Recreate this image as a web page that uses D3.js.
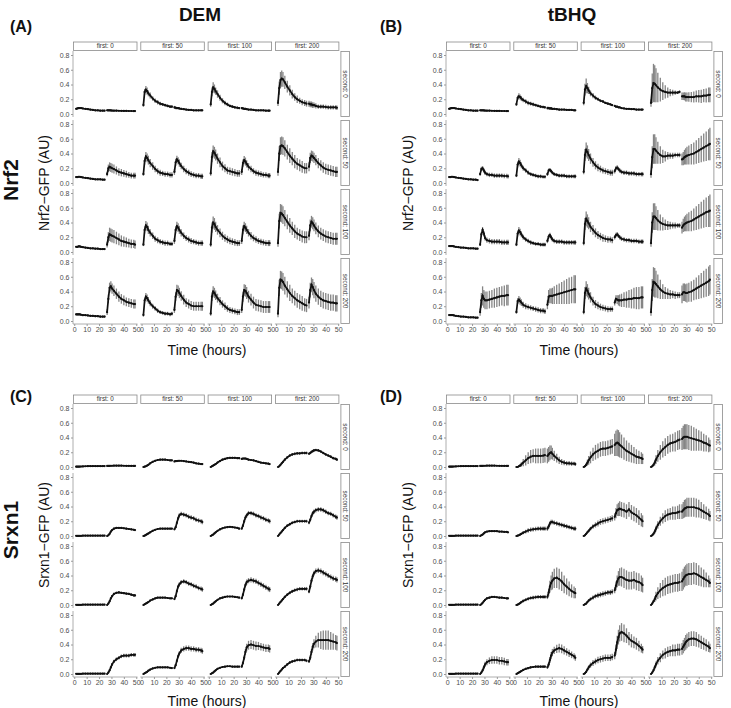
<!DOCTYPE html>
<html>
<head>
<meta charset="utf-8">
<script src="https://cdnjs.cloudflare.com/ajax/libs/d3/7.8.5/d3.min.js"></script>
<style>
body { margin: 0; background: #fff; }
svg { font-family: "Liberation Sans", Arial, sans-serif; }
</style>
</head>
<body>
<svg width="731" height="708"></svg>
<script>
// hours after start; points 0-14 belong to the first dose, 15-29 to the second
var times = [1.5,2.5,3.5,4.5,5.5,7,9,11,13,15,17,19,21,23,24.5,
             26.5,27.5,28.5,29.5,30.5,32,34,36,38,40,42,44,46,48,49];
var SPLIT = 15;
var firstDose = ["0", "50", "100", "200"];   // columns
var secondDose = ["0", "50", "100", "200"];  // rows
var xTicks = [0, 10, 20, 30, 40, 50];
var yTicks = [0, 0.2, 0.4, 0.6, 0.8];
var yTickLabels = ["0.0", "0.2", "0.4", "0.6", "0.8"];

// ---- (A) DEM, Nrf2 : [row = second dose][col = first dose] ----
var nrf2DemMean = [
 [[0.07,0.075,0.08,0.08,0.08,0.075,0.07,0.065,0.06,0.055,0.05,0.05,0.045,0.045,0.045,0.05,0.05,0.05,0.048,0.046,0.045,0.045,0.044,0.043,0.042,0.042,0.041,0.041,0.04,0.04],
  [0.12,0.3,0.33,0.31,0.28,0.25,0.21,0.18,0.16,0.14,0.13,0.12,0.11,0.1,0.1,0.09,0.085,0.08,0.08,0.075,0.07,0.065,0.06,0.055,0.055,0.05,0.05,0.05,0.05,0.05],
  [0.13,0.3,0.36,0.34,0.31,0.27,0.22,0.18,0.15,0.13,0.11,0.1,0.09,0.085,0.08,0.08,0.075,0.07,0.07,0.065,0.06,0.06,0.055,0.05,0.05,0.05,0.05,0.045,0.045,0.045],
  [0.15,0.35,0.46,0.48,0.47,0.43,0.37,0.32,0.27,0.23,0.2,0.18,0.16,0.15,0.14,0.14,0.13,0.13,0.12,0.12,0.11,0.1,0.1,0.1,0.095,0.09,0.09,0.09,0.09,0.085]],
 [[0.08,0.08,0.085,0.085,0.08,0.075,0.07,0.065,0.06,0.055,0.05,0.05,0.05,0.045,0.045,0.12,0.2,0.22,0.21,0.2,0.19,0.17,0.15,0.14,0.13,0.12,0.11,0.1,0.1,0.1],
  [0.12,0.3,0.36,0.34,0.31,0.27,0.23,0.19,0.16,0.14,0.13,0.12,0.12,0.11,0.11,0.15,0.28,0.32,0.3,0.27,0.23,0.19,0.16,0.14,0.12,0.11,0.1,0.1,0.09,0.09],
  [0.13,0.35,0.43,0.41,0.38,0.33,0.28,0.23,0.2,0.17,0.16,0.15,0.14,0.13,0.13,0.15,0.27,0.31,0.29,0.26,0.22,0.19,0.16,0.14,0.13,0.12,0.11,0.11,0.1,0.1],
  [0.15,0.4,0.5,0.51,0.5,0.47,0.42,0.37,0.33,0.29,0.26,0.24,0.22,0.2,0.2,0.22,0.34,0.37,0.36,0.34,0.31,0.27,0.24,0.21,0.19,0.18,0.17,0.16,0.15,0.15]],
 [[0.07,0.07,0.075,0.075,0.07,0.065,0.06,0.055,0.05,0.05,0.045,0.045,0.04,0.04,0.04,0.1,0.2,0.24,0.23,0.22,0.21,0.19,0.17,0.15,0.14,0.13,0.12,0.11,0.11,0.1],
  [0.1,0.3,0.36,0.34,0.3,0.26,0.22,0.18,0.16,0.14,0.13,0.12,0.12,0.11,0.11,0.15,0.3,0.35,0.33,0.3,0.26,0.22,0.19,0.17,0.15,0.14,0.13,0.12,0.12,0.12],
  [0.1,0.33,0.4,0.38,0.34,0.3,0.26,0.22,0.19,0.17,0.15,0.14,0.13,0.12,0.12,0.15,0.3,0.35,0.33,0.3,0.26,0.22,0.19,0.17,0.15,0.14,0.13,0.12,0.12,0.12],
  [0.12,0.42,0.53,0.52,0.5,0.46,0.41,0.36,0.32,0.28,0.25,0.23,0.21,0.2,0.2,0.22,0.36,0.41,0.39,0.36,0.32,0.28,0.25,0.23,0.21,0.2,0.19,0.18,0.18,0.18]],
 [[0.09,0.09,0.09,0.09,0.085,0.08,0.08,0.075,0.07,0.07,0.065,0.065,0.06,0.06,0.06,0.12,0.3,0.45,0.47,0.44,0.41,0.37,0.33,0.3,0.28,0.26,0.25,0.24,0.23,0.23],
  [0.08,0.28,0.33,0.31,0.28,0.24,0.2,0.17,0.14,0.12,0.11,0.1,0.1,0.09,0.1,0.15,0.33,0.42,0.41,0.38,0.34,0.29,0.25,0.23,0.21,0.2,0.2,0.2,0.2,0.2],
  [0.1,0.33,0.4,0.38,0.35,0.31,0.27,0.23,0.2,0.17,0.15,0.14,0.13,0.12,0.12,0.15,0.33,0.42,0.41,0.38,0.33,0.29,0.25,0.22,0.21,0.2,0.19,0.19,0.19,0.19],
  [0.1,0.45,0.56,0.55,0.53,0.48,0.43,0.38,0.34,0.31,0.28,0.26,0.24,0.22,0.21,0.25,0.42,0.49,0.46,0.42,0.37,0.33,0.3,0.28,0.27,0.26,0.25,0.25,0.24,0.24]]
];
var nrf2DemSd = [
 [[0.01,0.01,0.01,0.01,0.01,0.01,0.01,0.01,0.01,0.01,0.01,0.01,0.01,0.01,0.01,0.01,0.01,0.01,0.01,0.01,0.01,0.01,0.01,0.01,0.01,0.01,0.01,0.01,0.01,0.01],
  [0.02,0.04,0.05,0.05,0.04,0.04,0.03,0.03,0.03,0.025,0.02,0.02,0.02,0.02,0.02,0.02,0.02,0.015,0.015,0.015,0.015,0.01,0.01,0.01,0.01,0.01,0.01,0.01,0.01,0.01],
  [0.03,0.06,0.07,0.06,0.05,0.05,0.04,0.035,0.03,0.025,0.02,0.02,0.02,0.02,0.015,0.015,0.015,0.015,0.015,0.01,0.01,0.01,0.01,0.01,0.01,0.01,0.01,0.01,0.01,0.01],
  [0.04,0.09,0.11,0.11,0.1,0.09,0.08,0.07,0.06,0.05,0.05,0.04,0.04,0.04,0.04,0.04,0.04,0.04,0.04,0.035,0.035,0.03,0.03,0.03,0.03,0.03,0.03,0.03,0.03,0.03]],
 [[0.01,0.01,0.01,0.01,0.01,0.01,0.01,0.01,0.01,0.01,0.01,0.01,0.01,0.01,0.01,0.03,0.05,0.06,0.06,0.06,0.06,0.055,0.05,0.05,0.045,0.045,0.04,0.04,0.04,0.04],
  [0.02,0.05,0.06,0.06,0.06,0.055,0.05,0.045,0.04,0.04,0.035,0.035,0.035,0.035,0.035,0.04,0.05,0.05,0.05,0.05,0.045,0.045,0.04,0.04,0.04,0.035,0.035,0.035,0.035,0.035],
  [0.03,0.07,0.08,0.08,0.075,0.07,0.065,0.06,0.055,0.05,0.05,0.05,0.05,0.045,0.045,0.04,0.05,0.055,0.055,0.05,0.05,0.045,0.04,0.04,0.04,0.04,0.035,0.035,0.035,0.035],
  [0.05,0.1,0.12,0.12,0.12,0.11,0.1,0.1,0.09,0.09,0.08,0.08,0.08,0.07,0.07,0.06,0.07,0.07,0.07,0.07,0.07,0.07,0.07,0.07,0.07,0.07,0.07,0.07,0.07,0.07]],
 [[0.01,0.01,0.01,0.01,0.01,0.01,0.01,0.01,0.01,0.01,0.01,0.01,0.01,0.01,0.01,0.04,0.07,0.09,0.09,0.09,0.09,0.085,0.08,0.075,0.07,0.065,0.06,0.06,0.055,0.055],
  [0.02,0.05,0.06,0.06,0.055,0.05,0.045,0.04,0.04,0.035,0.035,0.035,0.035,0.03,0.03,0.04,0.05,0.06,0.06,0.055,0.05,0.045,0.04,0.04,0.04,0.035,0.035,0.035,0.035,0.035],
  [0.03,0.07,0.08,0.08,0.07,0.065,0.06,0.055,0.05,0.05,0.045,0.045,0.045,0.04,0.04,0.04,0.06,0.06,0.06,0.055,0.05,0.05,0.045,0.045,0.04,0.04,0.04,0.04,0.04,0.04],
  [0.05,0.1,0.12,0.12,0.12,0.11,0.1,0.1,0.09,0.09,0.08,0.08,0.08,0.08,0.08,0.06,0.08,0.08,0.08,0.08,0.08,0.08,0.08,0.08,0.08,0.08,0.08,0.08,0.08,0.08]],
 [[0.015,0.015,0.015,0.015,0.015,0.015,0.015,0.015,0.015,0.015,0.015,0.015,0.015,0.015,0.015,0.04,0.06,0.07,0.07,0.07,0.07,0.07,0.07,0.065,0.065,0.06,0.06,0.06,0.06,0.06],
  [0.02,0.04,0.05,0.05,0.045,0.04,0.035,0.03,0.03,0.025,0.025,0.025,0.025,0.025,0.025,0.04,0.06,0.07,0.07,0.07,0.065,0.065,0.06,0.06,0.06,0.06,0.06,0.06,0.06,0.06],
  [0.03,0.06,0.07,0.07,0.065,0.06,0.055,0.05,0.05,0.045,0.04,0.04,0.04,0.04,0.04,0.04,0.07,0.08,0.08,0.08,0.08,0.08,0.08,0.08,0.08,0.08,0.08,0.08,0.08,0.08],
  [0.05,0.11,0.12,0.12,0.12,0.12,0.11,0.11,0.1,0.1,0.1,0.1,0.1,0.09,0.09,0.08,0.1,0.1,0.11,0.11,0.11,0.11,0.11,0.11,0.11,0.11,0.11,0.11,0.11,0.11]]
];

// ---- (B) tBHQ, Nrf2 ----
var nrf2TbhqMean = [
 [[0.07,0.075,0.08,0.08,0.08,0.075,0.07,0.065,0.06,0.055,0.05,0.05,0.045,0.045,0.045,0.05,0.05,0.05,0.048,0.046,0.045,0.045,0.044,0.043,0.042,0.042,0.041,0.041,0.04,0.04],
  [0.13,0.22,0.24,0.23,0.21,0.19,0.17,0.15,0.14,0.13,0.12,0.11,0.1,0.095,0.09,0.08,0.08,0.075,0.075,0.07,0.07,0.065,0.06,0.06,0.06,0.055,0.055,0.055,0.05,0.05],
  [0.15,0.33,0.38,0.35,0.32,0.28,0.25,0.22,0.2,0.18,0.17,0.15,0.14,0.13,0.12,0.11,0.1,0.1,0.09,0.09,0.08,0.075,0.07,0.07,0.065,0.065,0.06,0.06,0.06,0.06],
  [0.15,0.35,0.42,0.41,0.39,0.36,0.33,0.31,0.3,0.29,0.29,0.29,0.29,0.29,0.3,0.24,0.24,0.24,0.23,0.23,0.23,0.23,0.23,0.24,0.24,0.24,0.25,0.25,0.26,0.26]],
 [[0.08,0.08,0.085,0.085,0.08,0.075,0.07,0.065,0.06,0.055,0.05,0.05,0.045,0.045,0.04,0.12,0.19,0.2,0.17,0.14,0.12,0.11,0.11,0.1,0.1,0.1,0.1,0.095,0.095,0.09],
  [0.1,0.25,0.29,0.27,0.24,0.2,0.17,0.14,0.12,0.11,0.1,0.09,0.09,0.085,0.085,0.12,0.17,0.18,0.16,0.14,0.12,0.11,0.1,0.1,0.1,0.09,0.09,0.09,0.09,0.09],
  [0.15,0.38,0.45,0.42,0.38,0.33,0.28,0.24,0.21,0.19,0.17,0.16,0.15,0.14,0.14,0.16,0.2,0.21,0.19,0.17,0.15,0.14,0.14,0.13,0.13,0.13,0.12,0.12,0.12,0.12],
  [0.12,0.35,0.46,0.46,0.44,0.41,0.38,0.36,0.36,0.37,0.37,0.37,0.38,0.38,0.38,0.32,0.33,0.35,0.36,0.37,0.38,0.39,0.4,0.42,0.44,0.46,0.48,0.5,0.52,0.53]],
 [[0.08,0.08,0.08,0.08,0.075,0.07,0.065,0.06,0.06,0.055,0.05,0.05,0.05,0.045,0.045,0.1,0.24,0.3,0.25,0.19,0.16,0.15,0.14,0.14,0.14,0.14,0.13,0.13,0.13,0.13],
  [0.1,0.25,0.29,0.27,0.24,0.2,0.17,0.15,0.13,0.12,0.11,0.11,0.1,0.1,0.1,0.15,0.21,0.23,0.2,0.17,0.15,0.14,0.14,0.14,0.13,0.13,0.13,0.13,0.13,0.13],
  [0.12,0.38,0.45,0.42,0.39,0.34,0.3,0.26,0.23,0.21,0.19,0.18,0.17,0.17,0.16,0.2,0.23,0.24,0.22,0.2,0.18,0.17,0.16,0.16,0.15,0.15,0.15,0.14,0.14,0.14],
  [0.12,0.4,0.48,0.48,0.46,0.43,0.4,0.38,0.37,0.36,0.36,0.36,0.36,0.36,0.36,0.33,0.36,0.38,0.39,0.4,0.41,0.42,0.44,0.46,0.48,0.5,0.52,0.54,0.55,0.56]],
 [[0.08,0.08,0.08,0.08,0.075,0.07,0.065,0.06,0.06,0.055,0.05,0.05,0.05,0.045,0.045,0.12,0.28,0.34,0.3,0.28,0.28,0.29,0.3,0.31,0.32,0.33,0.34,0.34,0.35,0.35],
  [0.12,0.27,0.29,0.27,0.25,0.22,0.2,0.19,0.18,0.17,0.16,0.15,0.14,0.14,0.13,0.22,0.33,0.34,0.34,0.34,0.35,0.36,0.37,0.38,0.39,0.4,0.41,0.42,0.43,0.43],
  [0.12,0.38,0.44,0.41,0.37,0.32,0.27,0.23,0.21,0.19,0.18,0.17,0.16,0.16,0.16,0.25,0.3,0.29,0.28,0.28,0.28,0.29,0.29,0.3,0.3,0.31,0.31,0.31,0.32,0.32],
  [0.12,0.42,0.53,0.52,0.5,0.47,0.43,0.4,0.38,0.37,0.36,0.36,0.35,0.35,0.35,0.36,0.39,0.39,0.38,0.38,0.39,0.4,0.42,0.44,0.46,0.48,0.5,0.52,0.54,0.56]]
];
var nrf2TbhqSd = [
 [[0.01,0.01,0.01,0.01,0.01,0.01,0.01,0.01,0.01,0.01,0.01,0.01,0.01,0.01,0.01,0.01,0.01,0.01,0.01,0.01,0.01,0.01,0.01,0.01,0.01,0.01,0.01,0.01,0.01,0.01],
  [0.02,0.03,0.04,0.035,0.035,0.03,0.03,0.03,0.025,0.025,0.02,0.02,0.02,0.02,0.02,0.02,0.02,0.02,0.02,0.015,0.015,0.015,0.015,0.01,0.01,0.01,0.01,0.01,0.01,0.01],
  [0.03,0.08,0.1,0.07,0.05,0.04,0.035,0.03,0.025,0.02,0.02,0.015,0.015,0.01,0.01,0.01,0.01,0.01,0.01,0.01,0.01,0.01,0.01,0.01,0.01,0.01,0.01,0.01,0.01,0.01],
  [0.05,0.2,0.26,0.25,0.23,0.2,0.16,0.12,0.09,0.07,0.05,0.04,0.03,0.02,0.02,0.05,0.05,0.055,0.06,0.06,0.065,0.07,0.075,0.08,0.085,0.09,0.09,0.095,0.1,0.1]],
 [[0.01,0.01,0.01,0.01,0.01,0.01,0.01,0.01,0.01,0.01,0.01,0.01,0.01,0.01,0.01,0.02,0.03,0.03,0.03,0.03,0.03,0.03,0.03,0.03,0.03,0.03,0.03,0.03,0.03,0.03],
  [0.02,0.04,0.05,0.045,0.04,0.035,0.03,0.03,0.025,0.025,0.025,0.025,0.025,0.025,0.025,0.025,0.025,0.025,0.025,0.025,0.025,0.025,0.025,0.025,0.025,0.025,0.025,0.025,0.025,0.025],
  [0.03,0.08,0.1,0.09,0.08,0.07,0.06,0.055,0.05,0.045,0.04,0.04,0.04,0.04,0.04,0.03,0.03,0.03,0.03,0.03,0.03,0.03,0.03,0.03,0.03,0.03,0.03,0.03,0.03,0.03],
  [0.05,0.15,0.2,0.2,0.18,0.15,0.12,0.09,0.07,0.05,0.04,0.04,0.03,0.03,0.03,0.08,0.09,0.1,0.11,0.12,0.13,0.14,0.15,0.16,0.17,0.18,0.19,0.2,0.21,0.22]],
 [[0.01,0.01,0.01,0.01,0.01,0.01,0.01,0.01,0.01,0.01,0.01,0.01,0.01,0.01,0.01,0.02,0.03,0.035,0.035,0.035,0.035,0.035,0.035,0.035,0.035,0.035,0.035,0.035,0.035,0.035],
  [0.02,0.04,0.05,0.045,0.04,0.035,0.03,0.03,0.03,0.025,0.025,0.025,0.025,0.025,0.025,0.03,0.03,0.03,0.03,0.03,0.03,0.03,0.03,0.03,0.03,0.03,0.03,0.03,0.03,0.03],
  [0.03,0.08,0.1,0.09,0.08,0.07,0.065,0.06,0.055,0.05,0.05,0.045,0.045,0.04,0.04,0.03,0.03,0.03,0.03,0.03,0.03,0.03,0.03,0.03,0.03,0.03,0.03,0.03,0.03,0.03],
  [0.05,0.14,0.18,0.18,0.16,0.14,0.11,0.09,0.07,0.06,0.05,0.04,0.04,0.03,0.03,0.08,0.09,0.1,0.11,0.12,0.13,0.14,0.15,0.16,0.17,0.18,0.19,0.2,0.21,0.22]],
 [[0.01,0.01,0.01,0.01,0.01,0.01,0.01,0.01,0.01,0.01,0.01,0.01,0.01,0.01,0.01,0.05,0.1,0.13,0.12,0.12,0.12,0.12,0.12,0.13,0.13,0.13,0.13,0.14,0.14,0.14],
  [0.02,0.04,0.05,0.05,0.045,0.04,0.04,0.035,0.035,0.035,0.035,0.035,0.035,0.035,0.035,0.06,0.09,0.1,0.1,0.11,0.12,0.13,0.14,0.15,0.16,0.17,0.18,0.18,0.19,0.19],
  [0.03,0.08,0.1,0.09,0.08,0.07,0.06,0.055,0.05,0.045,0.04,0.04,0.04,0.035,0.035,0.04,0.05,0.06,0.07,0.08,0.09,0.1,0.11,0.12,0.13,0.14,0.15,0.15,0.15,0.15],
  [0.05,0.15,0.2,0.2,0.18,0.16,0.13,0.1,0.08,0.07,0.06,0.05,0.05,0.04,0.04,0.12,0.12,0.12,0.12,0.13,0.13,0.14,0.14,0.15,0.16,0.17,0.18,0.19,0.2,0.2]]
];

// ---- (C) DEM, Srxn1 ----
var srxn1DemMean = [
 [[0.005,0.005,0.005,0.006,0.007,0.008,0.01,0.011,0.012,0.012,0.013,0.013,0.013,0.013,0.013,0.014,0.015,0.016,0.017,0.017,0.018,0.018,0.018,0.018,0.017,0.016,0.016,0.015,0.015,0.015],
  [0,0.005,0.01,0.02,0.03,0.05,0.07,0.085,0.095,0.1,0.1,0.1,0.095,0.09,0.09,0.075,0.08,0.08,0.085,0.085,0.085,0.08,0.075,0.07,0.065,0.06,0.05,0.045,0.04,0.04],
  [0,0.01,0.02,0.03,0.04,0.06,0.08,0.1,0.11,0.12,0.125,0.125,0.125,0.12,0.12,0.11,0.115,0.115,0.115,0.11,0.1,0.095,0.09,0.08,0.07,0.06,0.055,0.05,0.045,0.04],
  [0,0.01,0.03,0.05,0.07,0.1,0.13,0.155,0.17,0.18,0.185,0.185,0.19,0.19,0.19,0.18,0.19,0.205,0.215,0.225,0.23,0.225,0.21,0.19,0.17,0.155,0.14,0.12,0.11,0.1]],
 [[0.003,0.003,0.003,0.003,0.003,0.004,0.004,0.004,0.005,0.005,0.005,0.005,0.005,0.005,0.005,0,0.01,0.03,0.06,0.08,0.1,0.11,0.11,0.11,0.105,0.1,0.095,0.09,0.085,0.08],
  [0,0.005,0.015,0.025,0.035,0.05,0.07,0.085,0.095,0.1,0.1,0.1,0.1,0.1,0.1,0.09,0.12,0.18,0.24,0.28,0.3,0.29,0.28,0.26,0.25,0.24,0.22,0.21,0.2,0.19],
  [0,0.01,0.02,0.035,0.05,0.07,0.09,0.105,0.115,0.12,0.125,0.12,0.115,0.11,0.1,0.1,0.14,0.2,0.25,0.28,0.31,0.31,0.3,0.28,0.27,0.25,0.24,0.22,0.21,0.2],
  [0,0.02,0.04,0.06,0.08,0.11,0.14,0.16,0.18,0.19,0.2,0.2,0.2,0.2,0.2,0.18,0.22,0.27,0.31,0.33,0.35,0.36,0.36,0.35,0.33,0.31,0.3,0.28,0.26,0.25]],
 [[0.003,0.003,0.003,0.003,0.003,0.004,0.004,0.004,0.005,0.005,0.005,0.005,0.005,0.005,0.005,0,0.02,0.05,0.09,0.12,0.15,0.165,0.17,0.165,0.16,0.155,0.15,0.14,0.13,0.13],
  [0,0.01,0.02,0.03,0.04,0.06,0.075,0.09,0.1,0.1,0.1,0.1,0.095,0.09,0.09,0.08,0.12,0.19,0.25,0.28,0.31,0.32,0.31,0.29,0.28,0.26,0.25,0.23,0.22,0.21],
  [0,0.01,0.02,0.035,0.05,0.07,0.09,0.1,0.11,0.115,0.115,0.115,0.11,0.105,0.1,0.09,0.14,0.21,0.27,0.31,0.33,0.34,0.33,0.32,0.3,0.28,0.26,0.24,0.22,0.21],
  [0,0.02,0.04,0.06,0.08,0.11,0.14,0.165,0.185,0.2,0.21,0.22,0.22,0.22,0.22,0.18,0.25,0.33,0.39,0.43,0.46,0.47,0.46,0.44,0.42,0.4,0.38,0.36,0.35,0.34]],
 [[0.003,0.003,0.003,0.003,0.003,0.004,0.004,0.004,0.005,0.005,0.005,0.005,0.005,0.005,0.005,0,0.02,0.05,0.09,0.13,0.17,0.2,0.22,0.24,0.25,0.25,0.25,0.26,0.26,0.26],
  [0,0.01,0.02,0.03,0.045,0.06,0.075,0.085,0.09,0.09,0.09,0.09,0.09,0.085,0.08,0.08,0.12,0.18,0.24,0.28,0.32,0.34,0.35,0.35,0.34,0.34,0.33,0.33,0.32,0.31],
  [0,0.01,0.02,0.035,0.05,0.07,0.085,0.095,0.1,0.105,0.105,0.1,0.1,0.1,0.1,0.1,0.15,0.22,0.3,0.36,0.39,0.4,0.39,0.38,0.38,0.37,0.36,0.35,0.35,0.34],
  [0,0.02,0.04,0.06,0.08,0.1,0.13,0.155,0.17,0.18,0.19,0.19,0.19,0.19,0.18,0.17,0.22,0.3,0.37,0.41,0.44,0.46,0.46,0.46,0.46,0.46,0.45,0.44,0.43,0.42]]
];
var srxn1DemSd = [
 [[0.004,0.004,0.004,0.004,0.004,0.004,0.004,0.004,0.004,0.004,0.004,0.004,0.004,0.004,0.004,0.004,0.004,0.004,0.004,0.004,0.004,0.004,0.004,0.004,0.004,0.004,0.004,0.004,0.004,0.004],
  [0.003,0.004,0.005,0.006,0.008,0.01,0.012,0.012,0.012,0.012,0.012,0.012,0.012,0.012,0.012,0.01,0.01,0.01,0.01,0.01,0.01,0.01,0.01,0.01,0.012,0.012,0.012,0.012,0.012,0.012],
  [0.003,0.005,0.006,0.007,0.008,0.01,0.012,0.013,0.014,0.014,0.014,0.014,0.014,0.014,0.014,0.012,0.012,0.012,0.012,0.012,0.012,0.012,0.012,0.012,0.012,0.012,0.012,0.012,0.012,0.012],
  [0.003,0.006,0.008,0.01,0.012,0.014,0.016,0.018,0.02,0.02,0.02,0.02,0.02,0.02,0.02,0.018,0.018,0.018,0.018,0.018,0.018,0.018,0.018,0.018,0.018,0.018,0.018,0.018,0.018,0.018]],
 [[0.003,0.003,0.003,0.003,0.003,0.003,0.003,0.003,0.003,0.003,0.003,0.003,0.003,0.003,0.003,0.003,0.005,0.008,0.01,0.012,0.012,0.012,0.012,0.012,0.012,0.012,0.012,0.012,0.012,0.012],
  [0.003,0.004,0.005,0.006,0.008,0.01,0.01,0.01,0.01,0.01,0.01,0.01,0.01,0.01,0.01,0.01,0.015,0.02,0.025,0.03,0.03,0.03,0.03,0.03,0.03,0.03,0.03,0.03,0.03,0.03],
  [0.003,0.005,0.006,0.008,0.01,0.012,0.012,0.012,0.012,0.012,0.012,0.012,0.012,0.012,0.012,0.012,0.018,0.024,0.028,0.03,0.03,0.03,0.03,0.03,0.03,0.03,0.03,0.03,0.03,0.03],
  [0.003,0.006,0.008,0.01,0.012,0.015,0.018,0.02,0.02,0.02,0.02,0.02,0.02,0.02,0.02,0.02,0.022,0.025,0.028,0.03,0.03,0.03,0.03,0.03,0.03,0.03,0.03,0.03,0.03,0.03]],
 [[0.003,0.003,0.003,0.003,0.003,0.003,0.003,0.003,0.003,0.003,0.003,0.003,0.003,0.003,0.003,0.003,0.006,0.01,0.012,0.014,0.015,0.015,0.015,0.015,0.015,0.015,0.015,0.015,0.015,0.015],
  [0.003,0.004,0.005,0.006,0.008,0.01,0.01,0.01,0.01,0.01,0.01,0.01,0.01,0.01,0.01,0.01,0.015,0.02,0.025,0.03,0.03,0.03,0.03,0.03,0.03,0.03,0.03,0.03,0.03,0.03],
  [0.003,0.005,0.006,0.008,0.01,0.012,0.012,0.012,0.012,0.012,0.012,0.012,0.012,0.012,0.012,0.012,0.018,0.025,0.03,0.035,0.035,0.035,0.035,0.035,0.035,0.035,0.035,0.035,0.035,0.035],
  [0.003,0.006,0.008,0.01,0.012,0.015,0.018,0.02,0.022,0.024,0.025,0.025,0.025,0.025,0.025,0.02,0.025,0.03,0.035,0.035,0.035,0.035,0.035,0.035,0.035,0.035,0.035,0.035,0.035,0.035]],
 [[0.003,0.003,0.003,0.003,0.003,0.003,0.003,0.003,0.003,0.003,0.003,0.003,0.003,0.003,0.003,0.003,0.008,0.012,0.016,0.02,0.022,0.025,0.025,0.025,0.025,0.025,0.025,0.025,0.025,0.025],
  [0.003,0.004,0.005,0.006,0.008,0.01,0.01,0.01,0.01,0.01,0.01,0.01,0.01,0.01,0.01,0.01,0.015,0.02,0.025,0.03,0.035,0.035,0.035,0.035,0.035,0.035,0.035,0.035,0.035,0.035],
  [0.003,0.005,0.006,0.008,0.01,0.01,0.01,0.01,0.01,0.01,0.01,0.01,0.01,0.01,0.01,0.015,0.02,0.03,0.04,0.05,0.06,0.06,0.06,0.06,0.055,0.05,0.05,0.05,0.05,0.05],
  [0.003,0.006,0.008,0.01,0.012,0.015,0.018,0.02,0.02,0.02,0.02,0.02,0.02,0.02,0.02,0.02,0.03,0.04,0.05,0.06,0.08,0.1,0.12,0.13,0.13,0.13,0.12,0.11,0.1,0.1]]
];

// ---- (D) tBHQ, Srxn1 ----
var srxn1TbhqMean = [
 [[0.005,0.005,0.005,0.006,0.007,0.008,0.01,0.011,0.012,0.012,0.013,0.013,0.013,0.013,0.013,0.014,0.015,0.016,0.017,0.017,0.018,0.018,0.018,0.018,0.017,0.016,0.016,0.015,0.015,0.015],
  [0,0,0.01,0.02,0.035,0.06,0.09,0.12,0.14,0.15,0.15,0.15,0.15,0.155,0.16,0.15,0.17,0.19,0.2,0.18,0.15,0.12,0.09,0.07,0.06,0.05,0.05,0.045,0.045,0.04],
  [0,0.01,0.03,0.06,0.09,0.13,0.17,0.2,0.22,0.24,0.25,0.25,0.26,0.27,0.28,0.3,0.32,0.33,0.32,0.3,0.28,0.25,0.22,0.2,0.18,0.16,0.14,0.13,0.12,0.11],
  [0,0.01,0.03,0.06,0.1,0.15,0.2,0.24,0.27,0.3,0.32,0.33,0.34,0.36,0.37,0.38,0.4,0.41,0.41,0.41,0.4,0.39,0.38,0.37,0.36,0.35,0.33,0.32,0.3,0.29]],
 [[0.003,0.003,0.003,0.003,0.003,0.004,0.004,0.004,0.005,0.005,0.005,0.005,0.005,0.005,0.005,0,0.01,0.02,0.035,0.05,0.06,0.065,0.065,0.065,0.065,0.06,0.06,0.055,0.055,0.05],
  [0,0.005,0.01,0.02,0.03,0.045,0.06,0.075,0.085,0.09,0.095,0.1,0.1,0.1,0.1,0.1,0.13,0.17,0.19,0.19,0.18,0.17,0.16,0.15,0.14,0.13,0.12,0.11,0.1,0.1],
  [0,0.01,0.03,0.05,0.07,0.1,0.13,0.15,0.17,0.19,0.2,0.21,0.22,0.23,0.24,0.26,0.31,0.35,0.36,0.37,0.36,0.35,0.33,0.36,0.32,0.3,0.28,0.25,0.22,0.2],
  [0,0.01,0.03,0.06,0.1,0.15,0.2,0.24,0.27,0.29,0.3,0.31,0.31,0.32,0.33,0.33,0.35,0.37,0.38,0.39,0.39,0.39,0.39,0.38,0.37,0.35,0.33,0.31,0.29,0.27]],
 [[0.003,0.003,0.003,0.003,0.003,0.004,0.004,0.004,0.005,0.005,0.005,0.005,0.005,0.005,0.005,0,0.01,0.03,0.05,0.07,0.09,0.1,0.11,0.11,0.105,0.1,0.1,0.095,0.09,0.09],
  [0,0.005,0.015,0.025,0.04,0.055,0.07,0.085,0.095,0.1,0.105,0.11,0.11,0.11,0.11,0.11,0.17,0.25,0.3,0.33,0.36,0.37,0.35,0.32,0.28,0.25,0.22,0.19,0.17,0.16],
  [0,0.01,0.02,0.04,0.06,0.08,0.1,0.12,0.13,0.14,0.15,0.16,0.17,0.17,0.18,0.2,0.26,0.32,0.36,0.38,0.38,0.36,0.34,0.33,0.33,0.34,0.32,0.31,0.29,0.27],
  [0,0.02,0.05,0.08,0.12,0.16,0.2,0.23,0.25,0.27,0.28,0.29,0.3,0.3,0.31,0.32,0.35,0.38,0.4,0.41,0.42,0.42,0.43,0.42,0.4,0.38,0.36,0.34,0.32,0.3]],
 [[0.003,0.003,0.003,0.003,0.003,0.004,0.004,0.004,0.005,0.005,0.005,0.005,0.005,0.005,0.005,0,0.02,0.05,0.09,0.13,0.16,0.18,0.19,0.19,0.19,0.18,0.18,0.17,0.16,0.16],
  [0,0.01,0.02,0.03,0.04,0.055,0.07,0.08,0.09,0.095,0.1,0.1,0.1,0.1,0.1,0.09,0.13,0.19,0.25,0.29,0.32,0.34,0.35,0.34,0.32,0.3,0.28,0.26,0.24,0.22],
  [0,0.01,0.03,0.06,0.09,0.12,0.15,0.17,0.19,0.2,0.21,0.22,0.22,0.22,0.23,0.25,0.33,0.43,0.5,0.55,0.57,0.55,0.52,0.48,0.45,0.43,0.41,0.38,0.35,0.33],
  [0,0.02,0.05,0.09,0.13,0.18,0.22,0.26,0.28,0.3,0.31,0.32,0.32,0.33,0.33,0.34,0.37,0.4,0.43,0.45,0.47,0.48,0.48,0.47,0.45,0.43,0.41,0.39,0.37,0.35]]
];
var srxn1TbhqSd = [
 [[0.004,0.004,0.004,0.004,0.004,0.004,0.004,0.004,0.004,0.004,0.004,0.004,0.004,0.004,0.004,0.004,0.004,0.004,0.004,0.004,0.004,0.004,0.004,0.004,0.004,0.004,0.004,0.004,0.004,0.004],
  [0.003,0.005,0.01,0.02,0.03,0.05,0.07,0.08,0.09,0.09,0.1,0.1,0.1,0.1,0.1,0.1,0.1,0.1,0.09,0.08,0.07,0.06,0.05,0.04,0.035,0.03,0.03,0.03,0.025,0.025],
  [0.005,0.01,0.02,0.04,0.06,0.08,0.09,0.1,0.1,0.1,0.1,0.1,0.1,0.1,0.1,0.15,0.17,0.18,0.18,0.17,0.16,0.15,0.14,0.13,0.12,0.11,0.1,0.09,0.08,0.07],
  [0.005,0.01,0.02,0.04,0.06,0.08,0.1,0.11,0.12,0.12,0.12,0.12,0.13,0.13,0.13,0.15,0.16,0.17,0.17,0.17,0.17,0.17,0.16,0.15,0.14,0.13,0.12,0.11,0.1,0.08]],
 [[0.003,0.003,0.003,0.003,0.003,0.003,0.003,0.003,0.003,0.003,0.003,0.003,0.003,0.003,0.003,0.003,0.005,0.007,0.008,0.008,0.008,0.008,0.008,0.008,0.008,0.008,0.008,0.008,0.008,0.008],
  [0.003,0.005,0.008,0.01,0.015,0.02,0.025,0.03,0.03,0.03,0.03,0.03,0.03,0.03,0.03,0.03,0.03,0.03,0.03,0.03,0.03,0.03,0.03,0.03,0.03,0.03,0.03,0.03,0.03,0.03],
  [0.003,0.006,0.01,0.015,0.02,0.025,0.03,0.035,0.04,0.04,0.04,0.04,0.04,0.04,0.04,0.05,0.07,0.08,0.09,0.1,0.1,0.1,0.1,0.1,0.1,0.1,0.1,0.1,0.09,0.08],
  [0.005,0.01,0.02,0.03,0.04,0.05,0.06,0.07,0.08,0.08,0.08,0.09,0.09,0.09,0.1,0.1,0.11,0.12,0.12,0.13,0.13,0.13,0.13,0.13,0.12,0.11,0.1,0.09,0.08,0.07]],
 [[0.003,0.003,0.003,0.003,0.003,0.003,0.003,0.003,0.003,0.003,0.003,0.003,0.003,0.003,0.003,0.003,0.005,0.008,0.01,0.012,0.012,0.012,0.012,0.012,0.012,0.012,0.012,0.012,0.012,0.012],
  [0.003,0.005,0.008,0.01,0.015,0.02,0.02,0.025,0.025,0.025,0.025,0.025,0.025,0.025,0.025,0.03,0.05,0.08,0.1,0.12,0.13,0.14,0.14,0.13,0.12,0.11,0.1,0.09,0.08,0.07],
  [0.003,0.006,0.01,0.015,0.02,0.025,0.03,0.03,0.035,0.035,0.035,0.035,0.035,0.035,0.035,0.04,0.06,0.08,0.1,0.12,0.13,0.13,0.13,0.12,0.12,0.12,0.12,0.12,0.11,0.1],
  [0.005,0.01,0.02,0.04,0.06,0.08,0.1,0.11,0.12,0.12,0.12,0.12,0.12,0.12,0.12,0.13,0.14,0.14,0.14,0.15,0.15,0.15,0.15,0.15,0.14,0.13,0.12,0.1,0.08,0.06]],
 [[0.003,0.003,0.003,0.003,0.003,0.003,0.003,0.003,0.003,0.003,0.003,0.003,0.003,0.003,0.003,0.003,0.01,0.02,0.03,0.035,0.04,0.045,0.05,0.05,0.05,0.05,0.05,0.05,0.045,0.045],
  [0.003,0.005,0.007,0.008,0.01,0.012,0.014,0.015,0.015,0.015,0.015,0.015,0.015,0.015,0.015,0.02,0.03,0.04,0.05,0.05,0.05,0.055,0.06,0.06,0.055,0.05,0.05,0.045,0.04,0.04],
  [0.003,0.008,0.015,0.02,0.03,0.035,0.04,0.04,0.045,0.045,0.045,0.045,0.045,0.045,0.045,0.05,0.07,0.09,0.1,0.11,0.12,0.12,0.1,0.09,0.09,0.08,0.08,0.07,0.06,0.05],
  [0.005,0.01,0.02,0.03,0.04,0.05,0.06,0.06,0.07,0.07,0.07,0.08,0.08,0.08,0.08,0.08,0.09,0.09,0.1,0.1,0.1,0.1,0.1,0.1,0.09,0.09,0.08,0.08,0.07,0.06]]
];

var svg = d3.select("svg");
var COL_PITCH = 67.3, COL_W = 64.5, ROW_PITCH = 69, ROW_H = 66;
var AXIS_GREY = "#9a9a9a", TEXT_GREY = "#4d4d4d";

var x = d3.scaleLinear().domain([-1, 51]).range([0, COL_W]);
var y = d3.scaleLinear().domain([0, 0.8]).range([63, 4]);

function drawGrid(ox, oy, means, sds) {
    var g = svg.append("g").attr("transform", "translate(" + ox + "," + oy + ")");
    var gridW = 3 * COL_PITCH + COL_W;

    // top strips
    firstDose.forEach(function(f, c) {
        g.append("rect")
            .attr("x", c * COL_PITCH + 0.5).attr("y", -9)
            .attr("width", COL_W - 1).attr("height", 8.5)
            .attr("fill", "#fff").attr("stroke", "#8a8a8a").attr("stroke-width", 0.8);
        g.append("text")
            .attr("x", c * COL_PITCH + COL_W / 2).attr("y", -2.6)
            .attr("text-anchor", "middle").attr("font-size", 6.3).attr("fill", "#333")
            .text("first: " + f);
    });

    secondDose.forEach(function(s, r) {
        var ry = r * ROW_PITCH;

        // right strip
        g.append("rect")
            .attr("x", gridW + 1.5).attr("y", ry + 0.5)
            .attr("width", 8.5).attr("height", ROW_H - 1)
            .attr("fill", "#fff").attr("stroke", "#8a8a8a").attr("stroke-width", 0.8);
        g.append("text")
            .attr("transform", "translate(" + (gridW + 3.6) + "," + (ry + ROW_H / 2) + ") rotate(90)")
            .attr("text-anchor", "middle").attr("font-size", 6.3).attr("fill", "#333")
            .text("second: " + s);

        // y axis on the first column
        var ya = g.append("g")
            .attr("transform", "translate(0," + ry + ")")
            .call(d3.axisLeft(y).tickValues(yTicks)
                .tickFormat(function(d, i) { return yTickLabels[i]; })
                .tickSize(2).tickPadding(1.5));
        ya.select(".domain").remove();
        ya.append("line").attr("x1", 0).attr("x2", 0).attr("y1", 0).attr("y2", ROW_H)
            .attr("stroke", AXIS_GREY).attr("stroke-width", 0.8);
        ya.selectAll(".tick line").attr("stroke", AXIS_GREY);
        ya.selectAll(".tick text").attr("font-size", 7).attr("fill", TEXT_GREY)
            .attr("font-family", "Liberation Sans, Arial, sans-serif");

        firstDose.forEach(function(f, c) {
            var fg = g.append("g").attr("transform", "translate(" + (c * COL_PITCH) + "," + ry + ")");
            var m = means[r][c], e = sds[r][c];
            var pts = times.map(function(t, i) {
                return { t: t, m: m[i], e: e[i], seg: i < SPLIT ? 0 : 1 };
            });

            fg.selectAll("line.err").data(pts).enter().append("line")
                .attr("class", "err")
                .attr("x1", function(d) { return x(d.t); })
                .attr("x2", function(d) { return x(d.t); })
                .attr("y1", function(d) { return y(d.m - d.e); })
                .attr("y2", function(d) { return y(d.m + d.e); })
                .attr("stroke", "#858585").attr("stroke-width", 1.3);

            var line = d3.line()
                .x(function(d) { return x(d.t); })
                .y(function(d) { return y(d.m); });

            [0, 1].forEach(function(sg) {
                fg.append("path")
                    .datum(pts.filter(function(d) { return d.seg === sg; }))
                    .attr("d", line)
                    .attr("fill", "none").attr("stroke", "#111").attr("stroke-width", 1.7);
            });

            fg.selectAll("circle").data(pts).enter().append("circle")
                .attr("cx", function(d) { return x(d.t); })
                .attr("cy", function(d) { return y(d.m); })
                .attr("r", 1.1).attr("fill", "#111");
        });
    });

    // x axes under the last row
    firstDose.forEach(function(f, c) {
        var xa = g.append("g")
            .attr("transform", "translate(" + (c * COL_PITCH) + "," + (3 * ROW_PITCH + ROW_H) + ")")
            .call(d3.axisBottom(x).tickValues(xTicks).tickSize(2).tickPadding(1));
        xa.select(".domain").remove();
        xa.append("line").attr("x1", 0).attr("x2", COL_W).attr("y1", 0).attr("y2", 0)
            .attr("stroke", AXIS_GREY).attr("stroke-width", 0.8);
        xa.selectAll(".tick line").attr("stroke", AXIS_GREY);
        xa.selectAll(".tick text").attr("font-size", 7).attr("fill", TEXT_GREY)
            .attr("font-family", "Liberation Sans, Arial, sans-serif");
    });
}

function label(txt, x0, y0, size, bold, rotate) {
    svg.append("text")
        .attr("transform", "translate(" + x0 + "," + y0 + ")" + (rotate ? " rotate(-90)" : ""))
        .attr("text-anchor", "middle")
        .attr("font-size", size).attr("font-weight", bold ? "bold" : "normal")
        .attr("fill", "#111")
        .text(txt);
}

drawGrid(73, 51, nrf2DemMean, nrf2DemSd);
drawGrid(446, 51, nrf2TbhqMean, nrf2TbhqSd);
drawGrid(73, 404, srxn1DemMean, srxn1DemSd);
drawGrid(446, 404, srxn1TbhqMean, srxn1TbhqSd);

// titles and letters
label("DEM", 200, 21, 19, true, false);
label("tBHQ", 572, 21, 19, true, false);
label("(A)", 21, 32, 16, true, false);
label("(B)", 391, 32, 16, true, false);
label("(C)", 21, 402, 16, true, false);
label("(D)", 391, 402, 16, true, false);
label("Nrf2", 18, 180, 21, true, true);
label("Srxn1", 18, 530, 21, true, true);

// axis titles
label("Nrf2\u2212GFP (AU)", 49, 183, 14, false, true);
label("Nrf2\u2212GFP (AU)", 413, 183, 14, false, true);
label("Srxn1\u2212GFP (AU)", 49, 535, 14, false, true);
label("Srxn1\u2212GFP (AU)", 413, 535, 14, false, true);
label("Time (hours)", 207, 355, 14, false, false);
label("Time (hours)", 579, 355, 14, false, false);
label("Time (hours)", 207, 706, 14, false, false);
label("Time (hours)", 579, 706, 14, false, false);
</script>
</body>
</html>
